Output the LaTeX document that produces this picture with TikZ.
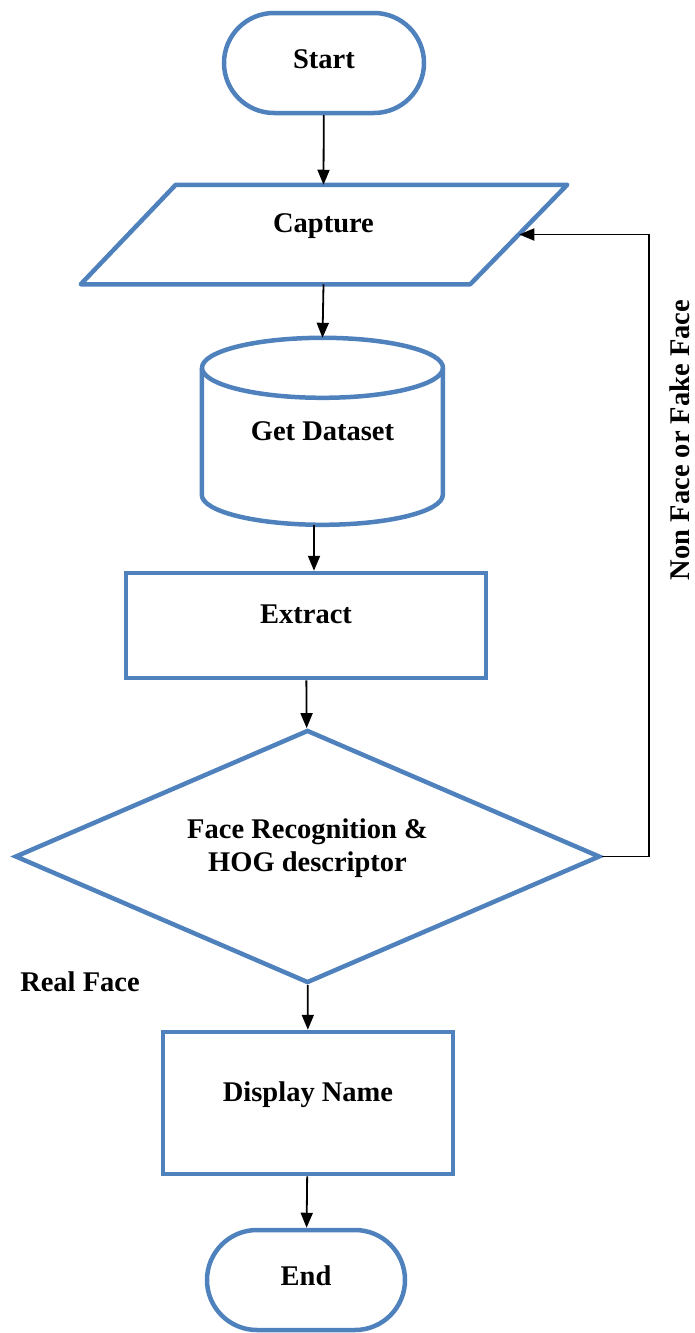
\documentclass[tikz,border=0pt]{standalone}
\usepackage{fontspec}
\setmainfont{Liberation Serif}
\usetikzlibrary{shapes.geometric,shapes.misc,arrows.meta}
\definecolor{boxblue}{RGB}{79,129,189}
\tikzset{shapebox/.style={draw=boxblue,line width=4.5pt,font=\bfseries\fontsize{28.5}{33}\selectfont,align=center,inner sep=0pt}}
\tikzset{term/.style={shapebox,rounded rectangle,text height=20pt,text depth=10pt}}
\tikzset{proc/.style={shapebox,rectangle,text height=20pt,text depth=24pt}}
\tikzset{decide/.style={shapebox,diamond,aspect=2.31,text depth=22pt}}
\tikzset{outline/.style={boxblue,line width=4.5pt,line join=round}}
\tikzset{flow/.style={line width=1.8pt,-{Triangle[length=15pt,width=12pt]}}}
\tikzset{lbl/.style={font=\bfseries\fontsize{28.5}{33}\selectfont,inner sep=0pt}}

\begin{document}
\begin{tikzpicture}[x=1pt,y=-1pt]
        \useasboundingbox (0,0) rectangle (695,1333);
        % boxes
        \node[term,minimum width=200,minimum height=100] (start) at (324,63) {Start};
        \node[proc,draw=none,minimum width=387,minimum height=95] (capture) at (323.5,234.5) {Capture};
        \draw[outline] ([xshift=48]capture.north west) -- ([xshift=48]capture.north east)
            -- ([xshift=-49]capture.south east) -- ([xshift=-47]capture.south west) -- cycle;
        \node[lbl,minimum width=241,minimum height=187] (dataset) at (322.5,431.5) {Get Dataset};
        \draw[outline] (dataset.north west) ++(0,30) -- ++(0,127)
            arc[start angle=180,end angle=0,x radius=120.5,y radius=30] -- ++(0,-127);
        \draw[outline] (dataset.north) ++(0,30) ellipse[x radius=120.5,y radius=30];
        \node[proc,minimum width=360,minimum height=105] (extract) at (306,625.5) {Extract};
        \node[decide,minimum width=585,minimum height=253] (face) at (307.5,856.5) {Face Recognition \&\\HOG descriptor};
        \node[proc,minimum width=290,minimum height=142] (display) at (308,1103) {Display Name};
        \node[term,minimum width=198,minimum height=100] (end) at (306,1280) {End};
        % arrows
        \draw[flow] (start) -- (capture.north);
        \draw[flow] (capture.south) -- (dataset.north);
        \draw[flow] ([xshift=8]extract.north |- dataset.south) -- ([xshift=8]extract.north);
        \draw[flow] (extract) -- (face);
        \draw[flow] (face) -- (display);
        \draw[flow] (display) -- (end);
        \draw[flow] (face.east) -- ++(47,0) |- (capture.east);
        % labels
        \node[lbl] (real) at (80,982) {Real Face};
        \node[lbl,rotate=90] (fake) at (680,440) {Non Face or Fake Face};
\end{tikzpicture}
\end{document}
